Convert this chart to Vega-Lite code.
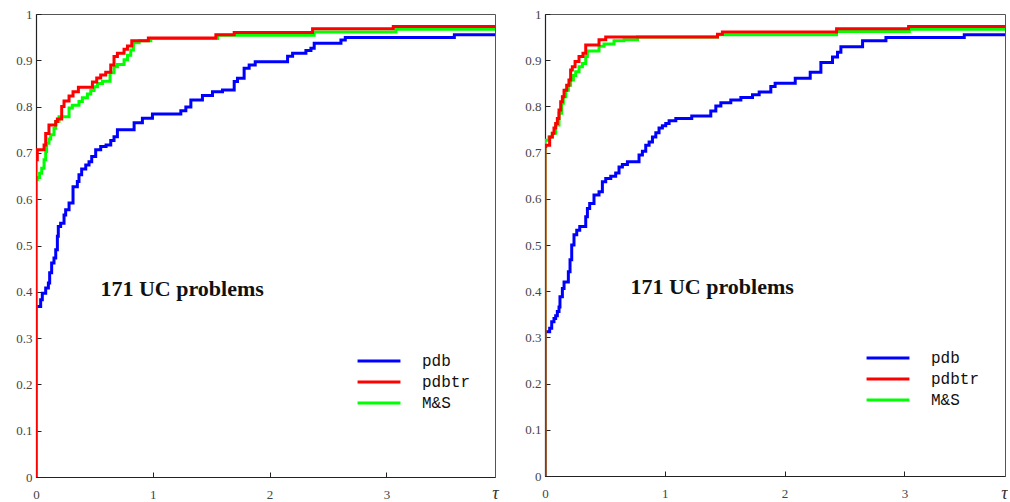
{
  "$schema": "https://vega.github.io/schema/vega-lite/v6.json",
  "autosize": {"type": "pad"},
  "padding": {"left": 15, "top": 7, "right": 0, "bottom": 0},
  "background": "white",
  "bounds": "flush",
  "spacing": 50,
  "config": {
    "view": {"stroke": "#555", "strokeWidth": 1},
    "axis": {
      "grid": false,
      "domainColor": "#222",
      "domainWidth": 1.2,
      "tickColor": "#222",
      "tickSize": -5,
      "labelColor": "#444",
      "labelFont": "Liberation Serif",
      "labelFontSize": 13,
      "labelFlush": false
    },
    "axisX": {"labelPadding": 16},
    "axisY": {"labelPadding": 9}
  },
  "datasets": {
    "left": [
      {"s": "pdb", "x": 0, "y": 0}, {"s": "pdb", "x": 0, "y": 0.368}, {"s": "pdb", "x": 0.04, "y": 0.383}, {"s": "pdb", "x": 0.054, "y": 0.397}, {"s": "pdb", "x": 0.083, "y": 0.408}, {"s": "pdb", "x": 0.106, "y": 0.419}, {"s": "pdb", "x": 0.117, "y": 0.441}, {"s": "pdb", "x": 0.134, "y": 0.462}, {"s": "pdb", "x": 0.154, "y": 0.473}, {"s": "pdb", "x": 0.169, "y": 0.491}, {"s": "pdb", "x": 0.183, "y": 0.52}, {"s": "pdb", "x": 0.191, "y": 0.541}, {"s": "pdb", "x": 0.211, "y": 0.548}, {"s": "pdb", "x": 0.24, "y": 0.566}, {"s": "pdb", "x": 0.254, "y": 0.577}, {"s": "pdb", "x": 0.283, "y": 0.592}, {"s": "pdb", "x": 0.317, "y": 0.627}, {"s": "pdb", "x": 0.354, "y": 0.638}, {"s": "pdb", "x": 0.368, "y": 0.653}, {"s": "pdb", "x": 0.391, "y": 0.665}, {"s": "pdb", "x": 0.426, "y": 0.674}, {"s": "pdb", "x": 0.454, "y": 0.681}, {"s": "pdb", "x": 0.477, "y": 0.692}, {"s": "pdb", "x": 0.511, "y": 0.707}, {"s": "pdb", "x": 0.554, "y": 0.714}, {"s": "pdb", "x": 0.6, "y": 0.717}, {"s": "pdb", "x": 0.64, "y": 0.727}, {"s": "pdb", "x": 0.668, "y": 0.735}, {"s": "pdb", "x": 0.697, "y": 0.75}, {"s": "pdb", "x": 0.84, "y": 0.765}, {"s": "pdb", "x": 0.911, "y": 0.775}, {"s": "pdb", "x": 0.997, "y": 0.784}, {"s": "pdb", "x": 1.24, "y": 0.791}, {"s": "pdb", "x": 1.283, "y": 0.799}, {"s": "pdb", "x": 1.326, "y": 0.814}, {"s": "pdb", "x": 1.425, "y": 0.824}, {"s": "pdb", "x": 1.511, "y": 0.832}, {"s": "pdb", "x": 1.597, "y": 0.836}, {"s": "pdb", "x": 1.697, "y": 0.854}, {"s": "pdb", "x": 1.725, "y": 0.861}, {"s": "pdb", "x": 1.782, "y": 0.883}, {"s": "pdb", "x": 1.825, "y": 0.89}, {"s": "pdb", "x": 1.877, "y": 0.897}, {"s": "pdb", "x": 2.154, "y": 0.909}, {"s": "pdb", "x": 2.197, "y": 0.915}, {"s": "pdb", "x": 2.311, "y": 0.921}, {"s": "pdb", "x": 2.354, "y": 0.926}, {"s": "pdb", "x": 2.382, "y": 0.937}, {"s": "pdb", "x": 2.611, "y": 0.944}, {"s": "pdb", "x": 2.648, "y": 0.949}, {"s": "pdb", "x": 3.582, "y": 0.955}, {"s": "pdb", "x": 3.93, "y": 0.955},
      {"s": "M&S", "x": 0, "y": 0}, {"s": "M&S", "x": 0, "y": 0.642}, {"s": "M&S", "x": 0.011, "y": 0.647}, {"s": "M&S", "x": 0.031, "y": 0.656}, {"s": "M&S", "x": 0.049, "y": 0.667}, {"s": "M&S", "x": 0.069, "y": 0.685}, {"s": "M&S", "x": 0.083, "y": 0.703}, {"s": "M&S", "x": 0.091, "y": 0.721}, {"s": "M&S", "x": 0.111, "y": 0.73}, {"s": "M&S", "x": 0.126, "y": 0.739}, {"s": "M&S", "x": 0.154, "y": 0.753}, {"s": "M&S", "x": 0.169, "y": 0.768}, {"s": "M&S", "x": 0.197, "y": 0.778}, {"s": "M&S", "x": 0.283, "y": 0.797}, {"s": "M&S", "x": 0.311, "y": 0.803}, {"s": "M&S", "x": 0.368, "y": 0.811}, {"s": "M&S", "x": 0.397, "y": 0.819}, {"s": "M&S", "x": 0.44, "y": 0.827}, {"s": "M&S", "x": 0.469, "y": 0.835}, {"s": "M&S", "x": 0.497, "y": 0.843}, {"s": "M&S", "x": 0.526, "y": 0.85}, {"s": "M&S", "x": 0.569, "y": 0.855}, {"s": "M&S", "x": 0.634, "y": 0.873}, {"s": "M&S", "x": 0.668, "y": 0.886}, {"s": "M&S", "x": 0.697, "y": 0.891}, {"s": "M&S", "x": 0.754, "y": 0.901}, {"s": "M&S", "x": 0.783, "y": 0.911}, {"s": "M&S", "x": 0.811, "y": 0.922}, {"s": "M&S", "x": 0.834, "y": 0.938}, {"s": "M&S", "x": 0.883, "y": 0.942}, {"s": "M&S", "x": 0.983, "y": 0.947}, {"s": "M&S", "x": 1.555, "y": 0.954}, {"s": "M&S", "x": 2.382, "y": 0.961}, {"s": "M&S", "x": 3.082, "y": 0.967}, {"s": "M&S", "x": 3.93, "y": 0.967},
      {"s": "pdbtr", "x": 0, "y": 0}, {"s": "pdbtr", "x": 0, "y": 0.685}, {"s": "pdbtr", "x": 0.011, "y": 0.707}, {"s": "pdbtr", "x": 0.069, "y": 0.717}, {"s": "pdbtr", "x": 0.083, "y": 0.742}, {"s": "pdbtr", "x": 0.111, "y": 0.76}, {"s": "pdbtr", "x": 0.169, "y": 0.768}, {"s": "pdbtr", "x": 0.183, "y": 0.773}, {"s": "pdbtr", "x": 0.22, "y": 0.8}, {"s": "pdbtr", "x": 0.24, "y": 0.812}, {"s": "pdbtr", "x": 0.283, "y": 0.823}, {"s": "pdbtr", "x": 0.317, "y": 0.832}, {"s": "pdbtr", "x": 0.363, "y": 0.842}, {"s": "pdbtr", "x": 0.483, "y": 0.853}, {"s": "pdbtr", "x": 0.52, "y": 0.862}, {"s": "pdbtr", "x": 0.554, "y": 0.868}, {"s": "pdbtr", "x": 0.597, "y": 0.874}, {"s": "pdbtr", "x": 0.64, "y": 0.89}, {"s": "pdbtr", "x": 0.668, "y": 0.908}, {"s": "pdbtr", "x": 0.697, "y": 0.915}, {"s": "pdbtr", "x": 0.754, "y": 0.924}, {"s": "pdbtr", "x": 0.783, "y": 0.931}, {"s": "pdbtr", "x": 0.82, "y": 0.942}, {"s": "pdbtr", "x": 0.962, "y": 0.948}, {"s": "pdbtr", "x": 1.54, "y": 0.955}, {"s": "pdbtr", "x": 1.697, "y": 0.96}, {"s": "pdbtr", "x": 2.368, "y": 0.968}, {"s": "pdbtr", "x": 3.059, "y": 0.973}, {"s": "pdbtr", "x": 3.93, "y": 0.973}
    ],
    "right": [
      {"s": "pdb", "x": 0, "y": 0}, {"s": "pdb", "x": 0, "y": 0.312}, {"s": "pdb", "x": 0.039, "y": 0.32}, {"s": "pdb", "x": 0.056, "y": 0.334}, {"s": "pdb", "x": 0.075, "y": 0.341}, {"s": "pdb", "x": 0.089, "y": 0.347}, {"s": "pdb", "x": 0.103, "y": 0.356}, {"s": "pdb", "x": 0.117, "y": 0.366}, {"s": "pdb", "x": 0.125, "y": 0.388}, {"s": "pdb", "x": 0.145, "y": 0.406}, {"s": "pdb", "x": 0.159, "y": 0.42}, {"s": "pdb", "x": 0.195, "y": 0.442}, {"s": "pdb", "x": 0.209, "y": 0.468}, {"s": "pdb", "x": 0.223, "y": 0.5}, {"s": "pdb", "x": 0.242, "y": 0.522}, {"s": "pdb", "x": 0.265, "y": 0.532}, {"s": "pdb", "x": 0.29, "y": 0.54}, {"s": "pdb", "x": 0.34, "y": 0.561}, {"s": "pdb", "x": 0.354, "y": 0.579}, {"s": "pdb", "x": 0.373, "y": 0.59}, {"s": "pdb", "x": 0.409, "y": 0.608}, {"s": "pdb", "x": 0.451, "y": 0.615}, {"s": "pdb", "x": 0.479, "y": 0.637}, {"s": "pdb", "x": 0.507, "y": 0.644}, {"s": "pdb", "x": 0.549, "y": 0.649}, {"s": "pdb", "x": 0.59, "y": 0.656}, {"s": "pdb", "x": 0.618, "y": 0.669}, {"s": "pdb", "x": 0.646, "y": 0.674}, {"s": "pdb", "x": 0.688, "y": 0.68}, {"s": "pdb", "x": 0.785, "y": 0.695}, {"s": "pdb", "x": 0.813, "y": 0.703}, {"s": "pdb", "x": 0.841, "y": 0.716}, {"s": "pdb", "x": 0.869, "y": 0.723}, {"s": "pdb", "x": 0.897, "y": 0.734}, {"s": "pdb", "x": 0.925, "y": 0.743}, {"s": "pdb", "x": 0.952, "y": 0.753}, {"s": "pdb", "x": 0.98, "y": 0.758}, {"s": "pdb", "x": 1.008, "y": 0.763}, {"s": "pdb", "x": 1.036, "y": 0.769}, {"s": "pdb", "x": 1.092, "y": 0.774}, {"s": "pdb", "x": 1.225, "y": 0.779}, {"s": "pdb", "x": 1.384, "y": 0.79}, {"s": "pdb", "x": 1.426, "y": 0.801}, {"s": "pdb", "x": 1.468, "y": 0.808}, {"s": "pdb", "x": 1.551, "y": 0.814}, {"s": "pdb", "x": 1.635, "y": 0.819}, {"s": "pdb", "x": 1.732, "y": 0.825}, {"s": "pdb", "x": 1.788, "y": 0.831}, {"s": "pdb", "x": 1.885, "y": 0.843}, {"s": "pdb", "x": 1.921, "y": 0.85}, {"s": "pdb", "x": 2.089, "y": 0.861}, {"s": "pdb", "x": 2.214, "y": 0.874}, {"s": "pdb", "x": 2.303, "y": 0.895}, {"s": "pdb", "x": 2.4, "y": 0.907}, {"s": "pdb", "x": 2.442, "y": 0.917}, {"s": "pdb", "x": 2.47, "y": 0.929}, {"s": "pdb", "x": 2.651, "y": 0.942}, {"s": "pdb", "x": 2.846, "y": 0.949}, {"s": "pdb", "x": 3.5, "y": 0.955}, {"s": "pdb", "x": 3.84, "y": 0.955},
      {"s": "M&S", "x": 0, "y": 0}, {"s": "M&S", "x": 0, "y": 0.727}, {"s": "M&S", "x": 0.033, "y": 0.734}, {"s": "M&S", "x": 0.061, "y": 0.742}, {"s": "M&S", "x": 0.089, "y": 0.76}, {"s": "M&S", "x": 0.117, "y": 0.785}, {"s": "M&S", "x": 0.139, "y": 0.807}, {"s": "M&S", "x": 0.153, "y": 0.821}, {"s": "M&S", "x": 0.173, "y": 0.835}, {"s": "M&S", "x": 0.195, "y": 0.846}, {"s": "M&S", "x": 0.214, "y": 0.857}, {"s": "M&S", "x": 0.237, "y": 0.867}, {"s": "M&S", "x": 0.256, "y": 0.875}, {"s": "M&S", "x": 0.284, "y": 0.886}, {"s": "M&S", "x": 0.312, "y": 0.893}, {"s": "M&S", "x": 0.34, "y": 0.908}, {"s": "M&S", "x": 0.354, "y": 0.92}, {"s": "M&S", "x": 0.451, "y": 0.93}, {"s": "M&S", "x": 0.493, "y": 0.935}, {"s": "M&S", "x": 0.576, "y": 0.942}, {"s": "M&S", "x": 0.66, "y": 0.944}, {"s": "M&S", "x": 0.772, "y": 0.95}, {"s": "M&S", "x": 1.44, "y": 0.955}, {"s": "M&S", "x": 2.434, "y": 0.962}, {"s": "M&S", "x": 3.041, "y": 0.967}, {"s": "M&S", "x": 3.84, "y": 0.967},
      {"s": "pdbtr", "x": 0, "y": 0}, {"s": "pdbtr", "x": 0, "y": 0.713}, {"s": "pdbtr", "x": 0.006, "y": 0.716}, {"s": "pdbtr", "x": 0.039, "y": 0.734}, {"s": "pdbtr", "x": 0.061, "y": 0.742}, {"s": "pdbtr", "x": 0.075, "y": 0.753}, {"s": "pdbtr", "x": 0.089, "y": 0.763}, {"s": "pdbtr", "x": 0.103, "y": 0.774}, {"s": "pdbtr", "x": 0.117, "y": 0.792}, {"s": "pdbtr", "x": 0.131, "y": 0.81}, {"s": "pdbtr", "x": 0.145, "y": 0.821}, {"s": "pdbtr", "x": 0.159, "y": 0.835}, {"s": "pdbtr", "x": 0.181, "y": 0.846}, {"s": "pdbtr", "x": 0.2, "y": 0.857}, {"s": "pdbtr", "x": 0.214, "y": 0.879}, {"s": "pdbtr", "x": 0.228, "y": 0.886}, {"s": "pdbtr", "x": 0.251, "y": 0.897}, {"s": "pdbtr", "x": 0.284, "y": 0.908}, {"s": "pdbtr", "x": 0.317, "y": 0.915}, {"s": "pdbtr", "x": 0.34, "y": 0.933}, {"s": "pdbtr", "x": 0.451, "y": 0.944}, {"s": "pdbtr", "x": 0.507, "y": 0.95}, {"s": "pdbtr", "x": 1.44, "y": 0.956}, {"s": "pdbtr", "x": 1.481, "y": 0.961}, {"s": "pdbtr", "x": 2.434, "y": 0.968}, {"s": "pdbtr", "x": 3.035, "y": 0.973}, {"s": "pdbtr", "x": 3.84, "y": 0.973}
    ]
  },
  "hconcat": [
    {
      "width": 459,
      "height": 463,
      "layer": [
        {
          "data": {"name": "left"},
          "mark": {"type": "line", "interpolate": "step-after", "strokeWidth": 3, "strokeJoin": "miter", "clip": true},
          "encoding": {
            "x": {"field": "x", "type": "quantitative", "scale": {"domain": [0, 3.93], "nice": false, "zero": false},
                  "axis": {"values": [0, 1, 2, 3], "format": "d", "title": "τ", "titleFont": "Liberation Serif", "titleFontStyle": "italic", "titleFontWeight": "normal", "titleFontSize": 18, "titleColor": "#333", "titleX": 459, "titleY": 16, "titleAlign": "center", "titleBaseline": "middle"}},
            "y": {"field": "y", "type": "quantitative", "scale": {"domain": [0, 1], "nice": false},
                  "axis": {"values": [0, 0.1, 0.2, 0.3, 0.4, 0.5, 0.6, 0.7, 0.8, 0.9, 1], "format": "~g", "title": null}},
            "color": {"field": "s", "type": "nominal",
                      "scale": {"domain": ["pdb", "pdbtr", "M&S"], "range": ["#0000ff", "#ff0000", "#00ff00"]},
                      "legend": {"title": null, "orient": "none", "legendX": 335, "legendY": 339, "symbolType": "M-4,0H4", "symbolSize": 115, "symbolStrokeWidth": 3, "symbolFillColor": "transparent", "labelFont": "Liberation Mono", "labelFontSize": 16, "labelColor": "#111", "labelOffset": 35, "rowPadding": 5}}
          }
        },
        {
          "data": {"values": [{"label": "171 UC problems", "tx": 1.251, "ty": 0.3916}]},
          "mark": {"type": "text", "font": "Liberation Serif", "fontWeight": "bold", "fontSize": 22, "align": "center", "baseline": "alphabetic", "color": "#111"},
          "encoding": {"x": {"field": "tx", "type": "quantitative"}, "y": {"field": "ty", "type": "quantitative"}, "text": {"field": "label"}}
        }
      ]
    },
    {
      "width": 460,
      "height": 462,
      "layer": [
        {
          "data": {"name": "right"},
          "mark": {"type": "line", "interpolate": "step-after", "strokeWidth": 3, "strokeJoin": "miter", "clip": true},
          "encoding": {
            "x": {"field": "x", "type": "quantitative", "scale": {"domain": [0, 3.84], "nice": false, "zero": false},
                  "axis": {"values": [0, 1, 2, 3], "format": "d", "title": "τ", "titleFont": "Liberation Serif", "titleFontStyle": "italic", "titleFontWeight": "normal", "titleFontSize": 18, "titleColor": "#333", "titleX": 459, "titleY": 17, "titleAlign": "center", "titleBaseline": "middle"}},
            "y": {"field": "y", "type": "quantitative", "scale": {"domain": [0, 1], "nice": false},
                  "axis": {"values": [0, 0.1, 0.2, 0.3, 0.4, 0.5, 0.6, 0.7, 0.8, 0.9, 1], "format": "~g", "title": null}},
            "color": {"field": "s", "type": "nominal",
                      "scale": {"domain": ["pdb", "pdbtr", "M&S"], "range": ["#0000ff", "#ff0000", "#00ff00"]},
                      "legend": {"title": null, "orient": "none", "legendX": 335, "legendY": 336, "symbolType": "M-4,0H4", "symbolSize": 115, "symbolStrokeWidth": 3, "symbolFillColor": "transparent", "labelFont": "Liberation Mono", "labelFontSize": 16, "labelColor": "#111", "labelOffset": 35, "rowPadding": 5}}
          }
        },
        {
          "data": {"values": [{"label": "171 UC problems", "tx": 1.395, "ty": 0.394}]},
          "mark": {"type": "text", "font": "Liberation Serif", "fontWeight": "bold", "fontSize": 22, "align": "center", "baseline": "alphabetic", "color": "#111"},
          "encoding": {"x": {"field": "tx", "type": "quantitative"}, "y": {"field": "ty", "type": "quantitative"}, "text": {"field": "label"}}
        }
      ]
    }
  ],
  "resolve": {"scale": {"color": "independent", "x": "independent", "y": "independent"}, "legend": {"color": "independent"}}
}
